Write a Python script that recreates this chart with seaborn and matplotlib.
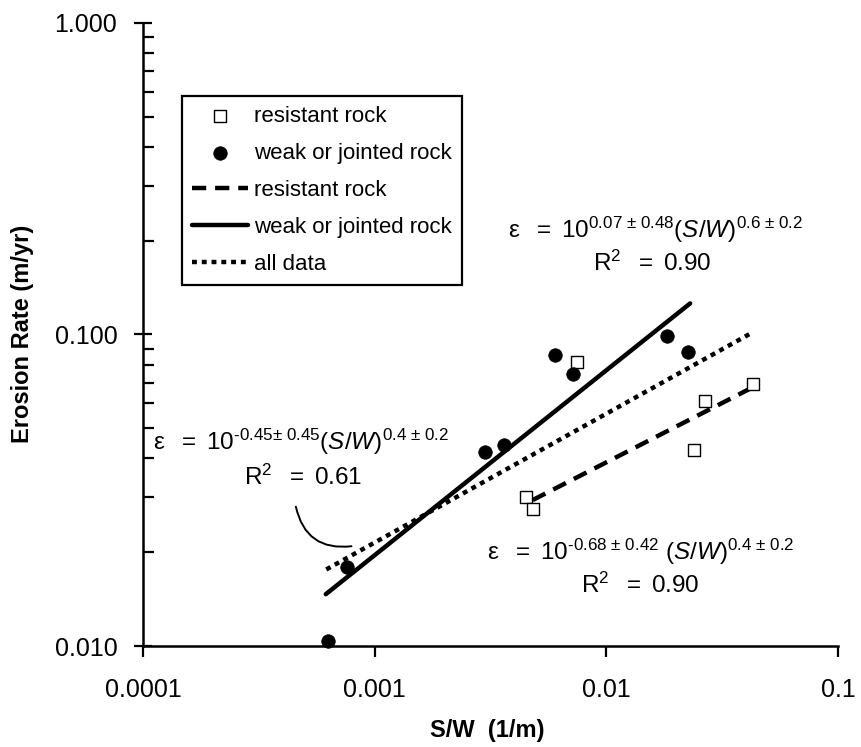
import matplotlib
matplotlib.use("Agg")
import matplotlib.pyplot as plt
import numpy as np
import pandas as pd
import seaborn as sns
from matplotlib.ticker import LogLocator, NullLocator, NullFormatter

# ---- data ----
resistant_sw = [0.00748, 0.00451, 0.00484, 0.0267, 0.0428, 0.0240]
resistant_rate = [0.0817, 0.0301, 0.0275, 0.0611, 0.0692, 0.0427]

weak_sw = [0.000626, 0.00076, 0.0030, 0.00361, 0.00601, 0.00721, 0.0183, 0.0225]
weak_rate = [0.0104, 0.0179, 0.0418, 0.0440, 0.0859, 0.0747, 0.0988, 0.0879]

# fitted power-law lines (end points)
fit_resistant_sw = [0.00481, 0.0420]
fit_resistant_rate = [0.0294, 0.0671]
fit_weak_sw = [0.000615, 0.0230]
fit_weak_rate = [0.01466, 0.1257]
fit_all_sw = [0.000618, 0.0425]
fit_all_rate = [0.0176, 0.1012]

x_ticks = [0.0001, 0.001, 0.01, 0.1]
x_tick_labels = ["0.0001", "0.001", "0.01", "0.1"]
y_ticks = [0.01, 0.1, 1.0]
y_tick_labels = ["0.010", "0.100", "1.000"]

eq_weak = r"$\mathrm{ε\ \ =\ 10}^{\mathrm{0.07\ ±\ 0.48}}\mathrm{(}\mathit{S/W}\mathrm{)}^{\mathrm{0.6\ ±\ 0.2}}$"
eq_all = r"$\mathrm{ε\ \ =\ 10}^{\mathrm{‐0.45 ±\ 0.45}}\mathrm{(}\mathit{S/W}\mathrm{)}^{\mathrm{0.4\ ±\ 0.2}}$"
eq_resistant = r"$\mathrm{ε\ \ =\ 10}^{\mathrm{‐0.68\ ±\ 0.42}}\mathrm{\ (}\mathit{S/W}\mathrm{)}^{\mathrm{0.4\ ±\ 0.2}}$"
r2_weak = r"$\mathrm{R}^{\mathrm{2}}\mathrm{\ \ =\ 0.90}$"
r2_all = r"$\mathrm{R}^{\mathrm{2}}\mathrm{\ \ =\ 0.61}$"
r2_resistant = r"$\mathrm{R}^{\mathrm{2}}\mathrm{\ \ =\ 0.90}$"

# ---- style ----
sns.set_style("ticks")
plt.rcParams["font.family"] = ["Liberation Sans", "DejaVu Sans"]
plt.rcParams["mathtext.fontset"] = "custom"
plt.rcParams["mathtext.rm"] = "Liberation Sans"
plt.rcParams["mathtext.it"] = "Liberation Sans:italic"
plt.rcParams["mathtext.bf"] = "Liberation Sans:bold"
for key in ["text.color", "axes.labelcolor", "xtick.color", "ytick.color", "axes.edgecolor"]:
    plt.rcParams[key] = "black"

W, H = 862, 747
fig = plt.figure(figsize=(W / 100, H / 100), dpi=100)
ax = fig.add_axes([143 / W, 1 - 646 / H, 695 / W, 623.3 / H])
ax.set_xscale("log")
ax.set_yscale("log")

sns.scatterplot(x=resistant_sw, y=resistant_rate, marker="s", s=75,
                color="white", edgecolor="black", linewidth=1.0,
                label="resistant rock", ax=ax, zorder=4, clip_on=False)
sns.scatterplot(x=weak_sw, y=weak_rate, marker="o", s=95,
                color="black", edgecolor="black", linewidth=0.5,
                label="weak or jointed rock", ax=ax, zorder=4, clip_on=False)

sns.lineplot(x=fit_resistant_sw, y=fit_resistant_rate, color="black", lw=3.2,
             linestyle=(0, (3.2, 2.0)), label="resistant rock", ax=ax, zorder=3)
sns.lineplot(x=fit_weak_sw, y=fit_weak_rate, color="black", lw=3.2,
             label="weak or jointed rock", ax=ax, zorder=3)
sns.lineplot(x=fit_all_sw, y=fit_all_rate, color="black", lw=3.2,
             linestyle=(0, (1.1, 1.1)), label="all data", ax=ax, zorder=3)

ax.set_xlim(0.0001, 0.1)
ax.set_ylim(0.01, 1.0)

ax.set_xticks(x_ticks, x_tick_labels)
ax.xaxis.set_minor_locator(NullLocator())
ax.set_yticks(y_ticks, y_tick_labels)
ax.yaxis.set_minor_locator(LogLocator(base=10, subs=np.arange(2, 10)))
ax.yaxis.set_minor_formatter(NullFormatter())

ax.tick_params(axis="y", which="major", direction="inout", length=13, width=1.6,
               labelsize=18, pad=12)
ax.tick_params(axis="y", which="minor", direction="in", length=8, width=1.6)
ax.tick_params(axis="x", which="major", direction="out", length=8, width=1.6,
               labelsize=18, pad=15)

sns.despine(ax=ax)
for side in ["left", "bottom"]:
    ax.spines[side].set_linewidth(1.8)

ax.set_xlabel("S/W  (1/m)", fontsize=17, fontweight="bold", va="center")
ax.set_ylabel("Erosion Rate (m/yr)", fontsize=17, fontweight="bold", va="center")
ax.xaxis.set_label_coords((487.5 - 143) / 695, (646 - 730) / 623.3)
ax.yaxis.set_label_coords((23 - 143) / 695, 0.5)

leg = ax.legend(loc="upper left", bbox_to_anchor=((182 - 143) / 695, (646 - 96) / 623.3),
                fontsize=16, frameon=True, fancybox=False, edgecolor="black",
                framealpha=1, borderpad=0.45, labelspacing=0.72, handlelength=2.5,
                handletextpad=0.3, borderaxespad=0)
leg.get_frame().set_linewidth(1.6)


def fig_xy(px, py):
    return px / W, 1 - py / H


fs = 17.5
fig.text(*fig_xy(508, 238), eq_weak, fontsize=fs, ha="left", va="baseline")
fig.text(*fig_xy(652, 271), r2_weak, fontsize=fs, ha="center", va="baseline")
fig.text(*fig_xy(153, 450), eq_all, fontsize=fs, ha="left", va="baseline")
fig.text(*fig_xy(303, 485), r2_all, fontsize=fs, ha="center", va="baseline")
fig.text(*fig_xy(487, 560), eq_resistant, fontsize=fs, ha="left", va="baseline")
fig.text(*fig_xy(640, 593), r2_resistant, fontsize=fs, ha="center", va="baseline")

# curved leader from the "all data" label to its line
ax.annotate("", xy=(0.000794, 0.0209), xytext=(0.000457, 0.028),
            arrowprops=dict(arrowstyle="-", color="black", lw=1.4,
                            shrinkA=0, shrinkB=0,
                            connectionstyle="arc3,rad=0.45"))

fig.savefig("out.png", dpi=100)
